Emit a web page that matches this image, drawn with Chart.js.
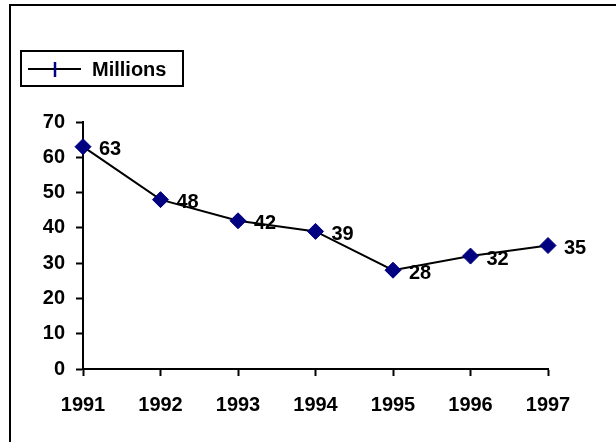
<!DOCTYPE html>
<html>
<head>
<meta charset="utf-8">
<script src="https://cdn.jsdelivr.net/npm/chart.js@4"></script>
<style>
  html, body { margin: 0; padding: 0; background: #fff; }
  canvas { display: block; }
</style>
</head>
<body>
<canvas id="millions-chart" width="616" height="442"></canvas>
<script>
// Data
const years = ["1991", "1992", "1993", "1994", "1995", "1996", "1997"];
const millions = [63, 48, 42, 39, 28, 32, 35];
const seriesName = "Millions";

const FONT = "'Liberation Sans', Arial, sans-serif";

// Outer frame, legend box and value labels
const decorations = {
    id: "decorations",
    beforeDraw(chart) {
        const ctx = chart.ctx;
        ctx.save();
        ctx.fillStyle = "#fff";
        ctx.fillRect(0, 0, chart.width, chart.height);
        ctx.strokeStyle = "#000";
        ctx.lineWidth = 2;
        ctx.beginPath();
        ctx.moveTo(10, chart.height + 5);
        ctx.lineTo(10, 5);
        ctx.lineTo(chart.width + 5, 5);
        ctx.stroke();
        ctx.restore();
    },
    afterDraw(chart) {
        const ctx = chart.ctx;
        const ds = chart.data.datasets[0];
        ctx.save();

        // legend
        ctx.strokeStyle = "#000";
        ctx.lineWidth = 2;
        ctx.strokeRect(21, 51, 162, 35);
        ctx.beginPath();
        ctx.moveTo(28, 69);
        ctx.lineTo(81, 69);
        ctx.stroke();
        ctx.strokeStyle = ds.pointBackgroundColor;
        ctx.lineWidth = 2.5;
        ctx.beginPath();
        ctx.moveTo(55, 62);
        ctx.lineTo(55, 77);
        ctx.stroke();
        ctx.fillStyle = "#000";
        ctx.font = "bold 20px " + FONT;
        ctx.textAlign = "left";
        ctx.textBaseline = "middle";
        ctx.fillText(ds.label, 92, 70);

        // value labels
        const meta = chart.getDatasetMeta(0);
        meta.data.forEach((pt, i) => {
            ctx.fillText(String(ds.data[i]), pt.x + 16, pt.y + 3);
        });
        ctx.restore();
    }
};

new Chart(document.getElementById("millions-chart"), {
    type: "line",
    data: {
        labels: years,
        datasets: [{
            label: seriesName,
            data: millions,
            borderColor: "#000",
            borderWidth: 2,
            pointStyle: "rectRot",
            pointRadius: 8,
            pointBackgroundColor: "#000080",
            pointBorderColor: "#000080",
            pointBorderWidth: 1,
            tension: 0
        }]
    },
    options: {
        responsive: false,
        animation: false,
        layout: { padding: { left: 0, right: 68, top: 122, bottom: 0 } },
        plugins: {
            legend: { display: false },
            tooltip: { enabled: false }
        },
        scales: {
            x: {
                offset: false,
                afterFit: (scale) => { scale.height = 73; },
                grid: {
                    display: true,
                    drawOnChartArea: false,
                    drawTicks: true,
                    tickLength: 7,
                    tickColor: "#000",
                    tickWidth: 2
                },
                border: { display: true, color: "#000", width: 2 },
                ticks: {
                    color: "#000",
                    font: { family: FONT, size: 20, weight: "bold" },
                    padding: 17,
                    maxRotation: 0
                }
            },
            y: {
                min: 0,
                max: 70,
                afterFit: (scale) => { scale.width = 83; },
                grid: {
                    display: true,
                    drawOnChartArea: false,
                    drawTicks: true,
                    tickLength: 7,
                    tickColor: "#000",
                    tickWidth: 2
                },
                border: { display: true, color: "#000", width: 2 },
                ticks: {
                    stepSize: 10,
                    color: "#000",
                    font: { family: FONT, size: 20, weight: "bold" },
                    padding: 11
                }
            }
        }
    },
    plugins: [decorations]
});
</script>
</body>
</html>
